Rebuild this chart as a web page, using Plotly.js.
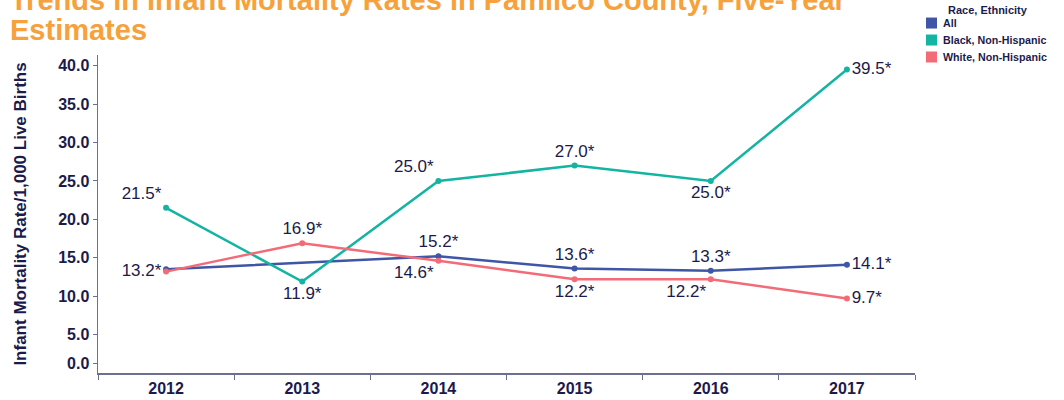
<!DOCTYPE html>
<html>
<head>
<meta charset="utf-8">
<script src="https://cdn.plot.ly/plotly-3.0.1.min.js"></script>
<style>
html,body{margin:0;padding:0;background:#fff;}
#chart{width:1064px;height:400px;}
</style>
</head>
<body>
<div id="chart"></div>
<script>
// ---- data ----
const years = ["2012", "2013", "2014", "2015", "2016", "2017"];
const allValues = [13.5, null, 15.2, 13.6, 13.3, 14.1];
const blackValues = [21.5, 11.9, 25.0, 27.0, 25.0, 39.5];
const whiteValues = [13.2, 16.9, 14.6, 12.2, 12.2, 9.7];
const seriesNames = ["All", "Black, Non-Hispanic", "White, Non-Hispanic"];
const yTickVals = [1.3, 5, 10, 15, 20, 25, 30, 35, 40];
const yTickText = ["0.0", "5.0", "10.0", "15.0", "20.0", "25.0", "30.0", "35.0", "40.0"];
const titleLine1 = "Trends in Infant Mortality Rates in Pamlico County, Five-Year";
const titleLine2 = "Estimates";
const yTitle = "Infant Mortality Rate/1,000 Live Births";
const legendTitle = "Race, Ethnicity";

// ---- styles ----
const colors = ["#3F55A5", "#14B4A3", "#F26B77"];
const navy = "#1B1B4B";
const axisColor = "#6E6E8E";
const font = "Liberation Sans, Arial, sans-serif";

// plot area in pixels (for placing the hand-drawn legend and title)
const PL = 98, PR = 915, PT = 55, PB = 373.4;
const px = x => (x - PL) / (PR - PL);
const py = y => (PB - y) / (PB - PT);

const lbl = v => (v === null ? "" : v.toFixed(1) + "*");
const allText = allValues.map(lbl); allText[0] = "";
const blackText = blackValues.map(lbl);
const whiteText = whiteValues.map(lbl);

const allPos = ["middle left", "top center", "top center", "top center", "top center", "middle right"];
const blackPos = ["top left", "bottom center", "top left", "top center", "bottom center", "middle right"];
const whitePos = ["middle left", "top center", "bottom left", "bottom center", "bottom left", "middle right"];

function lineTrace(vals, txt, pos, i) {
  return {
    type: "scatter", mode: "lines+markers+text",
    x: years, y: vals, text: txt, textposition: pos,
    textfont: {family: font, size: 17, color: navy},
    line: {color: colors[i], width: 2.5},
    marker: {color: colors[i], size: 6},
    connectgaps: true, showlegend: false, cliponaxis: false,
    name: seriesNames[i], hoverinfo: "x+y+name"
  };
}

const data = [
  lineTrace(allValues, allText, allPos, 0),
  lineTrace(blackValues, blackText, blackPos, 1),
  lineTrace(whiteValues, whiteText, whitePos, 2)
];

// legend drawn by hand (square swatches)
const legendRows = [23, 40, 57];
const shapes = seriesNames.map((n, i) => ({
  type: "rect", xref: "paper", yref: "paper",
  x0: px(926), x1: px(937), y0: py(legendRows[i] + 5.5), y1: py(legendRows[i] - 5.5),
  fillcolor: colors[i], line: {width: 0}
}));
const legendAnn = seriesNames.map((n, i) => ({
  text: n, xref: "paper", yref: "paper", x: px(941), y: py(legendRows[i]),
  xanchor: "left", yanchor: "middle", showarrow: false,
  font: {family: font, size: 10.7, color: navy, weight: "bold"}
}));

const layout = {
  width: 1064, height: 400,
  margin: {l: PL, r: 1064 - PR, t: PT, b: 400 - PB, pad: 0},
  paper_bgcolor: "#fff", plot_bgcolor: "#fff",
  font: {family: font, color: navy},
  showlegend: false,
  xaxis: {
    type: "category", range: [-0.5, 5.5],
    showline: true, linecolor: axisColor, linewidth: 1.5,
    ticks: "outside", tickson: "boundaries", ticklen: 5, tickcolor: axisColor,
    tickfont: {family: font, size: 16, color: navy, weight: "bold"},
    showgrid: false, zeroline: false, fixedrange: true
  },
  yaxis: {
    range: [0, 41.4],
    tickvals: yTickVals, ticktext: yTickText,
    showline: true, linecolor: axisColor, linewidth: 1.5,
    ticks: "outside", ticklen: 4, tickcolor: axisColor,
    tickfont: {family: font, size: 16, color: navy, weight: "bold"},
    showgrid: false, zeroline: false, fixedrange: true,
    title: {text: yTitle, font: {family: font, size: 17, color: navy, weight: "bold"}, standoff: 27}
  },
  shapes: shapes,
  annotations: [
    {text: titleLine1, xref: "paper", yref: "paper", x: px(8), y: py(0),
     xanchor: "left", yanchor: "middle", showarrow: false,
     font: {family: font, size: 29, color: "#F7A13B", weight: "bold"}},
    {text: titleLine2, xref: "paper", yref: "paper", x: px(8), y: py(29.5),
     xanchor: "left", yanchor: "middle", showarrow: false,
     font: {family: font, size: 29, color: "#F7A13B", weight: "bold"}},
    {text: legendTitle, xref: "paper", yref: "paper", x: px(988), y: py(9.5),
     xanchor: "center", yanchor: "middle", showarrow: false,
     font: {family: font, size: 11, color: navy, weight: "bold"}}
  ].concat(legendAnn)
};

Plotly.newPlot("chart", data, layout, {displayModeBar: false, staticPlot: true});
</script>
</body>
</html>
